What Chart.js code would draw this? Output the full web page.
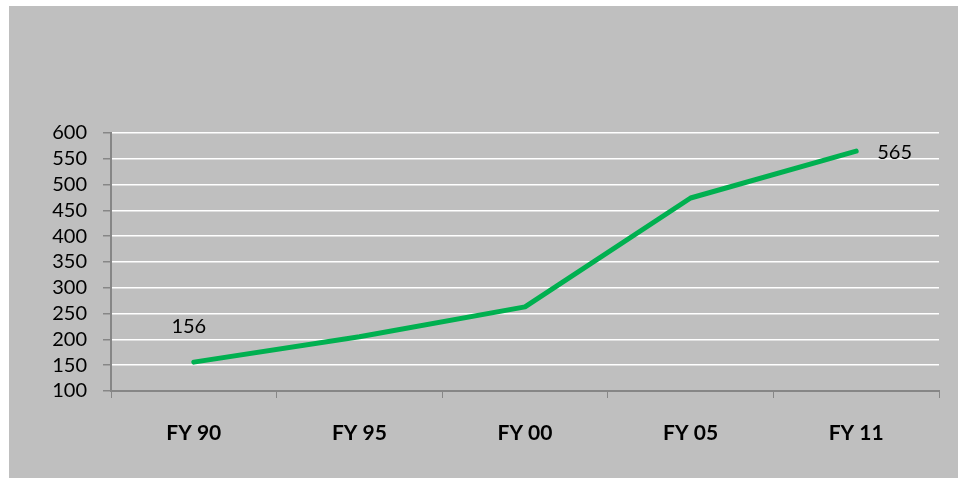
<!DOCTYPE html>
<html>
<head>
<meta charset="utf-8">
<script src="https://cdn.jsdelivr.net/npm/chart.js@4"></script>
<style>
html,body{margin:0;padding:0;background:#ffffff;}
#wrap{position:absolute;left:0;top:0;width:958px;height:478px;}
</style>
</head>
<body>
<div id="wrap"><canvas id="c" width="958" height="478"></canvas></div>
<script>
const categories = ["FY 90", "FY 95", "FY 00", "FY 05", "FY 11"];
const values = [156, 205, 263, 474, 565];
const labelledPoints = [0, 4];
const yMin = 100, yMax = 600, yStep = 50;

const bgPlugin = {
  id: 'bg',
  beforeDraw(chart) {
    const ctx = chart.ctx;
    ctx.save();
    ctx.fillStyle = '#ffffff';
    ctx.fillRect(0, 0, chart.width, chart.height);
    ctx.fillStyle = '#bfbfbf';
    ctx.fillRect(9, 6, chart.width - 9, chart.height - 6);
    ctx.restore();
  }
};

const labelPlugin = {
  id: 'pointLabels',
  afterDatasetsDraw(chart) {
    const ctx = chart.ctx;
    const meta = chart.getDatasetMeta(0);
    ctx.save();
    ctx.font = '20px Lato, "Open Sans", sans-serif';
    ctx.fillStyle = '#000000';
    ctx.textBaseline = 'middle';
    labelledPoints.forEach((i, k) => {
      const p = meta.data[i];
      const txt = String(values[i]);
      if (k === 0) {
        ctx.textAlign = 'center';
        ctx.fillText(txt, p.x - 5, p.y - 36);
      } else {
        ctx.textAlign = 'left';
        ctx.fillText(txt, p.x + 21, p.y + 1);
      }
    });
    ctx.restore();
  }
};

new Chart(document.getElementById('c'), {
  type: 'line',
  data: {
    labels: categories,
    datasets: [{
      data: values,
      borderColor: '#00b050',
      borderWidth: 5,
      pointRadius: 0,
      tension: 0,
      borderCapStyle: 'round',
      borderJoinStyle: 'round',
      fill: false
    }]
  },
  options: {
    responsive: false,
    animation: false,
    devicePixelRatio: 1,
    layout: { padding: { left: 0, top: 133, right: 19, bottom: 0 } },
    plugins: { legend: { display: false }, tooltip: { enabled: false }, title: { display: false } },
    scales: {
      x: {
        offset: true,
        grid: { display: true, drawOnChartArea: false, drawTicks: true, tickLength: 7, color: '#868686', tickColor: '#868686', offset: true },
        border: { display: true, color: '#868686', width: 2 },
        ticks: { color: '#000000', font: { family: 'Lato, "Open Sans", sans-serif', size: 21, weight: 'bold' }, padding: 23, maxRotation: 0, autoSkip: false },
        afterFit(scale) { scale.height = 87; }
      },
      y: {
        min: yMin, max: yMax,
        ticks: { stepSize: yStep, color: '#000000', font: { family: 'Lato, "Open Sans", sans-serif', size: 20 }, padding: 16, autoSkip: false },
        grid: {
          drawTicks: true, tickLength: 8,
          color: (c) => c.tick && c.tick.value === yMin ? 'rgba(0,0,0,0)' : '#ffffff',
          lineWidth: 1.5,
          tickColor: '#868686'
        },
        border: { display: true, color: '#868686', width: 2 },
        afterFit(scale) { scale.width = 111; }
      }
    }
  },
  plugins: [bgPlugin, labelPlugin]
});
</script>
</body>
</html>
